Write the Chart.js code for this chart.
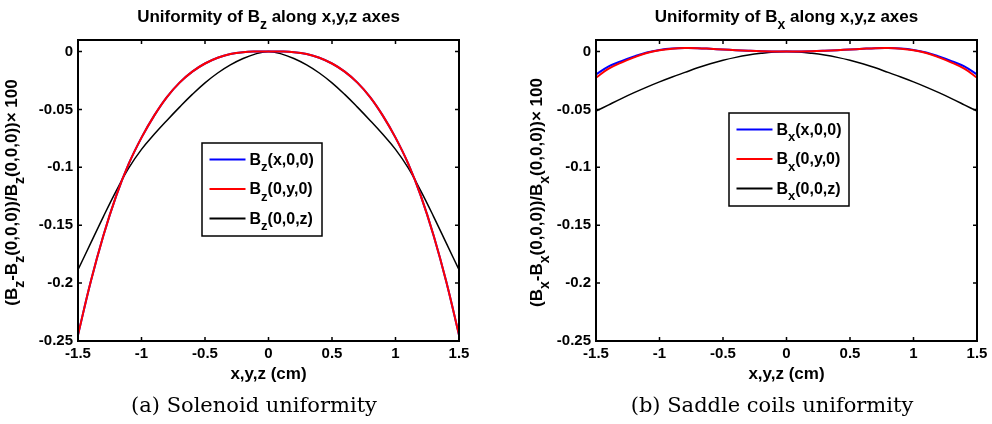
<!DOCTYPE html>
<html>
<head>
<meta charset="utf-8">
<script src="https://cdn.jsdelivr.net/npm/chart.js@4.4.1/dist/chart.umd.min.js"></script>
<style>
  html, body { margin: 0; padding: 0; background: #fff; }
  #wrap { position: relative; width: 992px; height: 424px; }
  canvas { position: absolute; top: 0; }
  #left { left: 0; }
  #right { left: 496px; }
</style>
</head>
<body>
<div id="wrap">
  <canvas id="left" width="496" height="424"></canvas>
  <canvas id="right" width="496" height="424"></canvas>
</div>
<script>
// positions along the axis (cm)
const positions = [-1.5, -1.4, -1.3, -1.2, -1.1, -1.0, -0.9, -0.8, -0.7, -0.6, -0.5, -0.4, -0.3, -0.2, -0.1,
    0, 0.1, 0.2, 0.3, 0.4, 0.5, 0.6, 0.7, 0.8, 0.9, 1.0, 1.1, 1.2, 1.3, 1.4, 1.5];

// (a) solenoid: Bz along x, y, z
const solenoidX = [-0.2448, -0.1988, -0.1588, -0.1248, -0.0968, -0.0743, -0.0553, -0.0393, -0.0268, -0.0173, -0.0103, -0.0053, -0.0021, -0.0005, 0,
    0, 0, -0.0005, -0.0021, -0.0053, -0.0103, -0.0173, -0.0268, -0.0393, -0.0553, -0.0743, -0.0968, -0.1248, -0.1588, -0.1988, -0.2448];
const solenoidY = [-0.2448, -0.1988, -0.1588, -0.1248, -0.0968, -0.0743, -0.0553, -0.0393, -0.0268, -0.0173, -0.0103, -0.0053, -0.0021, -0.0005, 0,
    0, 0, -0.0005, -0.0021, -0.0053, -0.0103, -0.0173, -0.0268, -0.0393, -0.0553, -0.0743, -0.0968, -0.1248, -0.1588, -0.1988, -0.2448];
const solenoidZ = [-0.1885, -0.1655, -0.1425, -0.1205, -0.1005, -0.0845, -0.0715, -0.0595, -0.048, -0.037, -0.027, -0.0185, -0.0115, -0.006, -0.002,
    0, -0.002, -0.006, -0.0115, -0.0185, -0.027, -0.037, -0.048, -0.0595, -0.0715, -0.0845, -0.1005, -0.1205, -0.1425, -0.1655, -0.1885];

// (b) saddle coils: Bx along x, y, z
const saddleX = [-0.0198, -0.0128, -0.0082, -0.0042, -0.0008, 0.0014, 0.0026, 0.003, 0.0029, 0.0024, 0.0018, 0.0012, 0.0007, 0.0003, 0.0001,
    0, 0.0001, 0.0003, 0.0007, 0.0012, 0.0018, 0.0024, 0.0029, 0.003, 0.0026, 0.0014, -0.0008, -0.0042, -0.0082, -0.0128, -0.0198];
const saddleY = [-0.0225, -0.0148, -0.0095, -0.005, -0.0012, 0.0012, 0.0025, 0.003, 0.0029, 0.0024, 0.0018, 0.0012, 0.0007, 0.0003, 0.0001,
    0, 0.0001, 0.0003, 0.0007, 0.0012, 0.0018, 0.0024, 0.0029, 0.003, 0.0025, 0.0012, -0.0012, -0.005, -0.0095, -0.0148, -0.0225];
const saddleZ = [-0.0515, -0.046, -0.0406, -0.0355, -0.0307, -0.0262, -0.022, -0.018, -0.014, -0.0105, -0.0075, -0.005, -0.003, -0.0015, -0.0004,
    0, -0.0004, -0.0015, -0.003, -0.005, -0.0075, -0.0105, -0.014, -0.018, -0.022, -0.0262, -0.0307, -0.0355, -0.0406, -0.046, -0.0515];

const xTickValues = [-1.5, -1, -0.5, 0, 0.5, 1, 1.5];
const yTickValues = [-0.25, -0.2, -0.15, -0.1, -0.05, 0];

const SANS = '"Liberation Sans", Arial, Helvetica, sans-serif';
const SERIF = '"DejaVu Serif", "Liberation Serif", serif';

// split 'B_{z}(x,0,0)' into [text, isSub] pieces
function parseRich(str) {
    const out = [];
    str.split(/(_\{[^}]*\})/).forEach(p => {
        if (!p) return;
        if (p.startsWith('_{')) out.push([p.slice(2, -1), true]);
        else out.push([p, false]);
    });
    return out;
}

function drawRich(ctx, str, x, y, size, align) {
    const parts = parseRich(str);
    const subSize = Math.round(size * 0.8);
    let w = 0;
    parts.forEach(p => {
        ctx.font = `bold ${p[1] ? subSize : size}px ${SANS}`;
        w += ctx.measureText(p[0]).width;
    });
    let cx = align === 'center' ? x - w / 2 : x;
    ctx.textAlign = 'left';
    ctx.textBaseline = 'alphabetic';
    parts.forEach(p => {
        ctx.font = `bold ${p[1] ? subSize : size}px ${SANS}`;
        ctx.fillText(p[0], cx, p[1] ? y + size * 0.42 : y);
        cx += ctx.measureText(p[0]).width;
    });
}

const panelDecor = {
    id: 'panelDecor',
    afterDatasetsDraw(chart, args, opts) {
        const ctx = chart.ctx;
        const a = chart.chartArea;
        const xs = chart.scales.x, ys = chart.scales.y;
        const midX = (a.left + a.right) / 2;
        ctx.save();
        ctx.fillStyle = '#000';
        ctx.strokeStyle = '#000';

        // axes box with inward ticks
        ctx.lineWidth = 2;
        ctx.strokeRect(a.left, a.top, a.right - a.left, a.bottom - a.top);
        ctx.lineWidth = 1.5;
        ctx.beginPath();
        xTickValues.forEach(v => {
            const px = xs.getPixelForValue(v);
            ctx.moveTo(px, a.bottom); ctx.lineTo(px, a.bottom - 4);
            ctx.moveTo(px, a.top); ctx.lineTo(px, a.top + 4);
        });
        yTickValues.forEach(v => {
            const py = ys.getPixelForValue(v);
            ctx.moveTo(a.left, py); ctx.lineTo(a.left + 4, py);
            ctx.moveTo(a.right, py); ctx.lineTo(a.right - 4, py);
        });
        ctx.stroke();

        // legend
        const lx = a.left + opts.legendX, ly = a.top + opts.legendY;
        ctx.fillStyle = '#fff';
        ctx.fillRect(lx, ly, 120, 93);
        ctx.lineWidth = 1.5;
        ctx.strokeRect(lx, ly, 120, 93);
        chart.data.datasets.slice().sort((p, q) => p.legendIndex - q.legendIndex).forEach((ds, i) => {
            const ry = ly + 16.5 + i * 29.5;
            ctx.strokeStyle = ds.borderColor;
            ctx.lineWidth = 2;
            ctx.beginPath();
            ctx.moveTo(lx + 7.5, ry); ctx.lineTo(lx + 43.5, ry);
            ctx.stroke();
            ctx.fillStyle = '#000';
            drawRich(ctx, ds.label, lx + 47.5, ry + 5, 16, 'left');
        });

        // title, axis titles, caption
        ctx.fillStyle = '#000';
        drawRich(ctx, opts.title, midX, 22, 17, 'center');
        drawRich(ctx, 'x,y,z (cm)', midX, 379, 17, 'center');
        ctx.save();
        ctx.translate(opts.yTitleX, (a.top + a.bottom) / 2 + 2);
        ctx.rotate(-Math.PI / 2);
        drawRich(ctx, opts.yTitle, 0, 0, 17, 'center');
        ctx.restore();

        ctx.font = `21px ${SERIF}`;
        ctx.textAlign = 'center';
        ctx.textBaseline = 'alphabetic';
        ctx.fillText(opts.caption, opts.captionX, 412);
        ctx.restore();
    }
};

function makePanel(id, series, decor, yWidth, padRight) {
    const datasets = series.map(s => ({
        label: s.label,
        legendIndex: s.legendIndex,
        data: positions.map((x, i) => ({ x: x, y: s.values[i] })),
        borderColor: s.color,
        borderWidth: s.width,
        pointRadius: 0,
        tension: 0.4,
        fill: false
    }));
    const tickFont = { family: SANS, size: 15, weight: 'bold' };
    return new Chart(document.getElementById(id).getContext('2d'), {
        type: 'line',
        data: { datasets: datasets },
        options: {
            responsive: false,
            animation: false,
            devicePixelRatio: 1,
            layout: { padding: { left: 0, right: padRight, top: 40, bottom: 0 } },
            plugins: {
                legend: { display: false },
                tooltip: { enabled: false },
                title: { display: false },
                panelDecor: decor
            },
            scales: {
                x: {
                    type: 'linear', min: -1.5, max: 1.5,
                    afterBuildTicks: s => { s.ticks = xTickValues.map(v => ({ value: v })); },
                    afterFit: s => { s.height = 83; },
                    ticks: { font: tickFont, color: '#000', padding: 4, maxRotation: 0, autoSkip: false,
                        callback: v => String(v) },
                    grid: { display: false, drawTicks: false },
                    border: { display: false }
                },
                y: {
                    type: 'linear', min: -0.25, max: 0.01,
                    afterBuildTicks: s => { s.ticks = yTickValues.map(v => ({ value: v })); },
                    afterFit: s => { s.width = yWidth; },
                    ticks: { font: tickFont, color: '#000', padding: 5, autoSkip: false,
                        callback: v => String(v) },
                    grid: { display: false, drawTicks: false },
                    border: { display: false }
                }
            }
        },
        plugins: [panelDecor]
    });
}

makePanel('left', [
    { label: 'B_{z}(0,y,0)', legendIndex: 1, values: solenoidY, color: '#ff0000', width: 2 },
    { label: 'B_{z}(x,0,0)', legendIndex: 0, values: solenoidX, color: '#0000ff', width: 2 },
    { label: 'B_{z}(0,0,z)', legendIndex: 2, values: solenoidZ, color: '#000000', width: 1.5 }
], {
    title: 'Uniformity of B_{z} along x,y,z axes',
    yTitle: '(B_{z}-B_{z}(0,0,0))/B_{z}(0,0,0))\u00d7 100',
    yTitleX: 17,
    legendX: 124, legendY: 103,
    caption: '(a) Solenoid uniformity',
    captionX: 254
}, 78, 37);

makePanel('right', [
    { label: 'B_{x}(0,y,0)', legendIndex: 1, values: saddleY, color: '#ff0000', width: 2 },
    { label: 'B_{x}(x,0,0)', legendIndex: 0, values: saddleX, color: '#0000ff', width: 2 },
    { label: 'B_{x}(0,0,z)', legendIndex: 2, values: saddleZ, color: '#000000', width: 1.5 }
], {
    title: 'Uniformity of B_{x} along x,y,z axes',
    yTitle: '(B_{x}-B_{x}(0,0,0))/B_{x}(0,0,0))\u00d7 100',
    yTitleX: 46,
    legendX: 133, legendY: 73,
    caption: '(b) Saddle coils uniformity',
    captionX: 276
}, 100, 15);
</script>
</body>
</html>
